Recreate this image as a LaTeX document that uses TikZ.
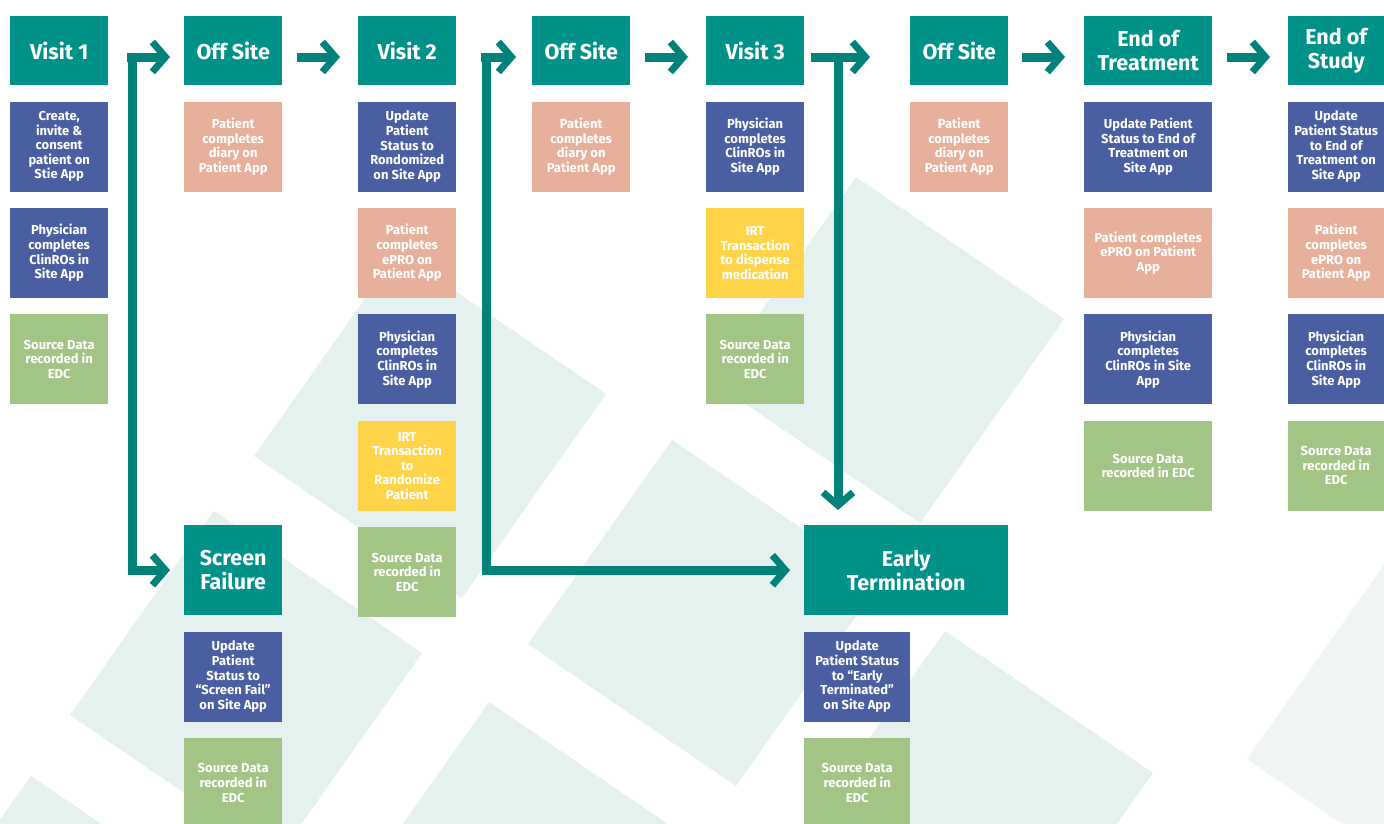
\documentclass[tikz,border=0pt]{standalone}
\usepackage{fontspec}
\setmainfont{Fira Sans}
\usetikzlibrary{arrows.meta,positioning}

\definecolor{hdteal}{HTML}{009189}
\definecolor{arrteal}{HTML}{00827A}
\definecolor{siteblue}{HTML}{4A5FA2}
\definecolor{patsalmon}{HTML}{E7B09A}
\definecolor{edcgreen}{HTML}{A2C585}
\definecolor{irtyellow}{HTML}{FFD448}
\definecolor{bgmint}{HTML}{E4F1EF}
\definecolor{bgfaint}{HTML}{EEF5F3}

\begin{document}
\begin{tikzpicture}[x=1pt,y=-1pt,node distance=16pt,
    box/.style={anchor=north west,minimum width=98pt,minimum height=90pt,inner sep=0pt,align=center,text=white,font=\bfseries\fontsize{13}{14.6}\selectfont},
    head/.style={box,fill=hdteal,minimum height=69pt,font=\bfseries\fontsize{21.5}{24}\selectfont},
    site/.style={box,fill=siteblue},
    pat/.style={box,fill=patsalmon},
    irt/.style={box,fill=irtyellow},
    edc/.style={box,fill=edcgreen}]
    \clip (0,0) rectangle (1384,823);
    \fill[white] (0,0) rectangle (1384,823);

    % background
    \foreach \tx/\ty in {398/252, 214/511, 31/776, 672/440, 856/177, 945/631, 489/702}
        \fill[bgmint] (\tx,\ty) -- ++(208,142) -- ++(-144,204) -- ++(-208,-142) -- cycle;
    \fill[bgfaint] (1391,555) -- ++(208,142) -- ++(-144,204) -- ++(-208,-142) -- cycle;

    \node[head] (V1) at (10,16) {Visit 1};
    \node[head] (OS1) at (184,16) {Off Site};
    \node[head] (V2) at (358,16) {Visit 2};
    \node[head] (OS2) at (532,16) {Off Site};
    \node[head] (V3) at (706,16) {Visit 3};
    \node[head] (OS3) at (910,16) {Off Site};
    \node[head,minimum width=128pt] (EOT) at (1084,16) {End of\\Treatment};
    \node[head,minimum width=96pt] (EOS) at (1288,16) {End of\\Study};
    \node[head,minimum height=90pt] (SF) at (184,525) {Screen\\Failure};
    \node[head,minimum height=90pt,minimum width=204pt] (ET) at (804,525) {Early\\Termination};

    \node[site] (V1_C1) [below=of V1] {Create,\\invite \&\\consent\\patient on\\Stie App};
    \node[site] (V1_C2) [below=of V1_C1] {Physician\\completes\\ClinROs in\\Site App};
    \node[edc] (V1_C3) [below=of V1_C2] {Source Data\\recorded in\\EDC};

    \node[pat] (OS1_C1) [below=of OS1] {Patient\\completes\\diary on\\Patient App};

    \node[site] (V2_C1) [below=of V2] {Update\\Patient\\Status to\\Rondomized\\on Site App};
    \node[pat] (V2_C2) [below=of V2_C1] {Patient\\completes\\ePRO on\\Patient App};
    \node[site] (V2_C3) [below=of V2_C2] {Physician\\completes\\ClinROs in\\Site App};
    \node[irt] (V2_C4) [below=of V2_C3] {IRT\\Transaction\\to\\Randomize\\Patient};
    \node[edc] (V2_C5) [below=of V2_C4] {Source Data\\recorded in\\EDC};

    \node[pat] (OS2_C1) [below=of OS2] {Patient\\completes\\diary on\\Patient App};

    \node[site] (V3_C1) [below=of V3] {Physician\\completes\\ClinROs in\\Site App};
    \node[irt] (V3_C2) [below=of V3_C1] {IRT\\Transaction\\to dispense\\medication};
    \node[edc] (V3_C3) [below=of V3_C2] {Source Data\\recorded in\\EDC};

    \node[pat] (OS3_C1) [below=of OS3] {Patient\\completes\\diary on\\Patient App};

    \node[site,minimum width=128pt] (EOT_C1) [below=of EOT] {Update Patient\\Status to End of\\Treatment on\\Site App};
    \node[pat,minimum width=128pt] (EOT_C2) [below=of EOT_C1] {Patient completes\\ePRO on Patient\\App};
    \node[site,minimum width=128pt] (EOT_C3) [below=of EOT_C2] {Physician\\completes\\ClinROs in Site\\App};
    \node[edc,minimum width=128pt] (EOT_C4) [below=of EOT_C3] {Source Data\\recorded in EDC};

    \node[site,minimum width=96pt] (EOS_C1) [below=of EOS] {Update\\Patient Status\\to End of\\Treatment on\\Site App};
    \node[pat,minimum width=96pt] (EOS_C2) [below=of EOS_C1] {Patient\\completes\\ePRO on\\Patient App};
    \node[site,minimum width=96pt] (EOS_C3) [below=of EOS_C2] {Physician\\completes\\ClinROs in\\Site App};
    \node[edc,minimum width=96pt] (EOS_C4) [below=of EOS_C3] {Source Data\\recorded in\\EDC};

    \node[site] (SF_C1) [below=of SF] {Update\\Patient\\Status to\\“Screen Fail”\\on Site App};
    \node[edc] (SF_C2) [below=of SF_C1] {Source Data\\recorded in\\EDC};

    \node[site,minimum width=106pt] (ET_C1) [below=of ET.south west,anchor=north west] {Update\\Patient Status\\to “Early\\Terminated”\\on Site App};
    \node[edc,minimum width=106pt] (ET_C2) [below=of ET_C1] {Source Data\\recorded in\\EDC};

    \tikzset{flow/.style={draw=arrteal,line width=9pt,-{Straight Barb[length=13pt,width=30pt,line width=7pt]}}}
    \coordinate (J1) at (127,57);
    \coordinate (J2) at (481,57);
    \coordinate (J3) at (811,57);
    \coordinate (J3v) at (838,52.5);
    \draw[flow,shorten >=14pt] (J1) -- (J1 -| OS1.west);
    \draw[flow,shorten >=14pt] ([xshift=5pt,yshift=4.5pt]J1) |- (SF.west);
    \draw[flow,shorten <=15pt,shorten >=18pt] (OS1.east |- J1) -- (V2.west |- J1);
    \draw[flow,shorten >=16pt] (J2) -- (J2 -| OS2.west);
    \draw[flow,shorten >=14pt] ([xshift=5pt,yshift=4.5pt]J2) |- (ET.west);
    \draw[flow,shorten <=15pt,shorten >=18pt] (OS2.east |- J2) -- (V3.west |- J2);
    \draw[flow,shorten >=40pt] (J3) -- (J3 -| OS3.west);
    \draw[flow,shorten >=15pt] (J3v) -- (J3v |- ET.north);
    \draw[flow,shorten <=14pt,shorten >=19pt] (OS3.east |- J3) -- (EOT.west |- J3);
    \draw[flow,shorten <=15pt,shorten >=18pt] (EOT.east |- J3) -- (EOS.west |- J3);
\end{tikzpicture}
\end{document}
